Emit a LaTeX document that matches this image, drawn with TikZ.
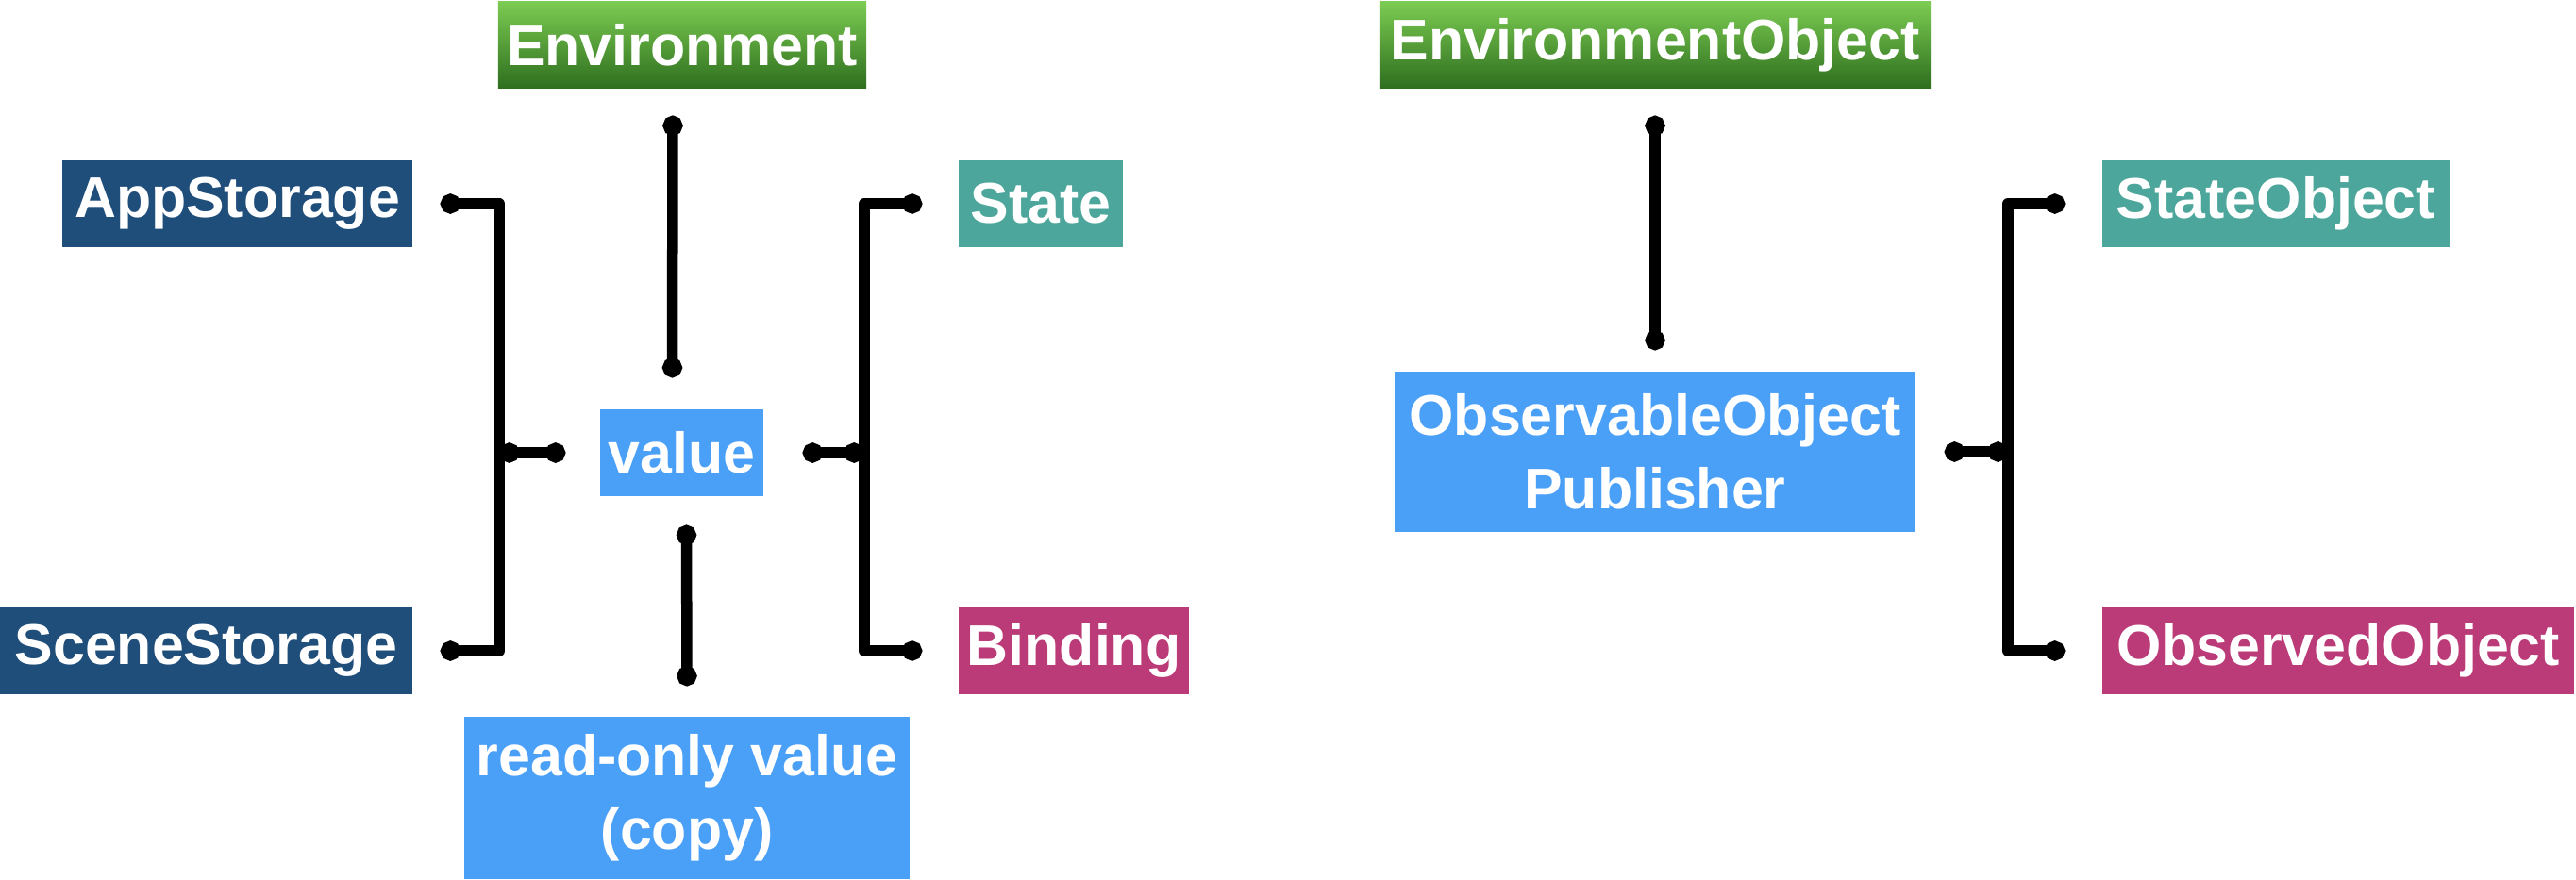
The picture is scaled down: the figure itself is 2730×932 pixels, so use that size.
\documentclass[tikz,border=0pt]{standalone}
\usepackage{fontspec}
\setmainfont{Liberation Sans}
\usetikzlibrary{calc,arrows.meta}
\definecolor{navy}{HTML}{1F4E7A}
\definecolor{teal}{HTML}{4CA69B}
\definecolor{magenta}{HTML}{BB3A78}
\definecolor{skyblue}{HTML}{4A9FF7}
\definecolor{greentop}{HTML}{7CCB52}
\definecolor{greenbot}{HTML}{2E6F1F}
\begin{document}
\begin{tikzpicture}[x=0.01cm,y=-0.01cm,
  box/.style={inner sep=0pt, text=white, font=\fontsize{17.3}{22.2}\selectfont\bfseries, align=center, anchor=center},
  envbox/.style={box, shade, top color=greentop, bottom color=greenbot},
  conn/.style={line width=0.115cm, line join=round, {Circle[length=0.21cm,width=0.21cm]}-{Circle[length=0.21cm,width=0.21cm]}}]
\useasboundingbox (0,0) rectangle (2730,932);
% left group
\node[envbox, minimum width=3.90cm, minimum height=0.91cm] (env) at (723,47.5) {Environment};
\node[box, fill=navy, minimum width=3.71cm, minimum height=0.92cm] (app) at (251.5,216) {AppStorage};
\node[box, fill=navy, minimum width=4.37cm, minimum height=0.92cm] (scene) at (218.5,690) {SceneStorage};
\node[box, fill=skyblue, minimum width=1.73cm, minimum height=0.92cm] (value) at (722.5,480) {value};
\node[box, fill=teal, minimum width=1.74cm, minimum height=0.92cm] (state) at (1103,216) {State};
\node[box, fill=magenta, minimum width=2.44cm, minimum height=0.92cm] (binding) at (1138,690) {Binding};
\node[box, fill=skyblue, minimum width=4.72cm, minimum height=1.72cm] (readonly) at (728,846) {read-only value\\(copy)};
% right group
\node[envbox, minimum width=5.84cm, minimum height=0.91cm] (envobj) at (1754,47.5) {EnvironmentObject};
\node[box, fill=skyblue, minimum width=5.52cm, minimum height=1.70cm] (observable) at (1754,479) {ObservableObject\\Publisher};
\node[box, fill=teal, minimum width=3.68cm, minimum height=0.92cm] (stateobj) at (2412,216) {StateObject};
\node[box, fill=magenta, minimum width=5.00cm, minimum height=0.92cm] (observed) at (2478,690) {ObservedObject};
% left bracket
\coordinate (lb1) at ($(app.east)+(29,0)$);
\coordinate (lb2) at ($(scene.east)+(29,0)$);
\coordinate (lbm) at ($(value.west)+(-36,0)$);
\coordinate (lbv) at ($(lbm)+(-70,0)$);
\draw[conn] (lb1) -| (lbv) |- (lb2);
\draw[conn] (lbv) -- (lbm);
% right bracket
\coordinate (rb1) at ($(state.west)+(-38,0)$);
\coordinate (rb2) at ($(binding.west)+(-38,0)$);
\coordinate (rbm) at ($(value.east)+(41,0)$);
\coordinate (rbv) at ($(rbm)+(65,0)$);
\draw[conn] (rb1) -| (rbv) |- (rb2);
\draw[conn] (rbm) -- (rbv);
% vertical links
\coordinate (ev1) at ($(env.south)+(-10,29)$);
\coordinate (ev2) at ($(value.north)+(-10,-33)$);
\draw[conn] (ev1) -- (ev2);
\coordinate (rv1) at ($(value.south)+(5,30)$);
\coordinate (rv2) at ($(readonly.north)+(0,-32)$);
\draw[conn] (rv1) -- (rv2);
% right group links
\coordinate (eo1) at ($(envobj.south)+(0,29)$);
\coordinate (eo2) at ($(observable.north)+(0,-22)$);
\draw[conn] (eo1) -- (eo2);
\coordinate (ob1) at ($(stateobj.west)+(-39,0)$);
\coordinate (ob2) at ($(observed.west)+(-39,0)$);
\coordinate (obm) at ($(observable.east)+(30,0)$);
\coordinate (obv) at ($(obm)+(67,0)$);
\draw[conn] (ob1) -| (obv) |- (ob2);
\draw[conn] (obm) -- (obv);
\end{tikzpicture}
\end{document}
